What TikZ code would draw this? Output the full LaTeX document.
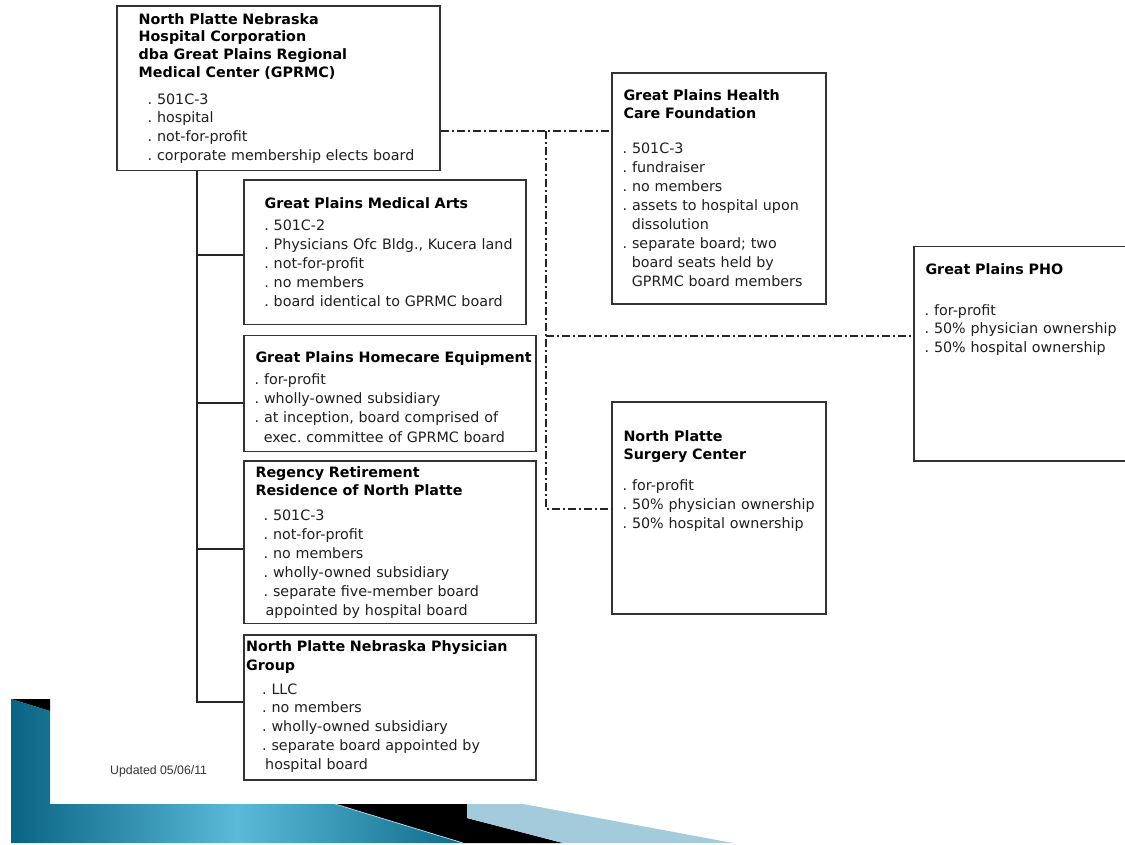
\documentclass[tikz,border=0pt]{standalone}
\usepackage{fontspec}
\setmainfont{DejaVu Sans}
\newfontfamily\updfont{Liberation Sans}
\definecolor{tealA}{RGB}{8,100,130}
\definecolor{tealB}{RGB}{90,186,216}
\definecolor{tealC}{RGB}{14,108,138}
\definecolor{paleblue}{RGB}{163,203,220}
\definecolor{edgeline}{RGB}{175,215,230}
\begin{document}
\frenchspacing
\begin{tikzpicture}[x=1pt,y=-1pt,
  box/.style={draw=black!80, line width=1.5pt, fill=white, rectangle, inner sep=0pt},
  ttl/.style={anchor=base west, inner sep=0pt, text width=330pt, align=left,
              font=\frenchspacing\fontsize{14.3}{18}\selectfont\bfseries, text=black},
  bdy/.style={anchor=base west, inner sep=0pt, text width=330pt, align=left,
              font=\frenchspacing\fontsize{14.3}{19}\selectfont, text=black!88},
  tree/.style={draw=black!85, line width=1.4pt},
  dd/.style={draw=black!85, line width=1.2pt, dash pattern=on 8pt off 3pt on 2pt off 3pt}]
\useasboundingbox (0,0) rectangle (1125,844);
\clip (0,0) rectangle (1125,844);
\fill[white] (0,0) rectangle (1125,844);

% slide decoration
\fill[black] (11,699) -- (50,699) -- (50,711) -- cycle;
\shade[left color=tealA, right color=tealC, middle color=tealB]
  (11,699) -- (50,711) -- (50,804) -- (335,804) -- (463,843) -- (11,843) -- cycle;
\fill[black] (335,804) -- (467,804) -- (467,818) -- (563,843) -- (463,843) -- cycle;
\fill[paleblue] (467,804) -- (523,804) -- (733,843) -- (563,843) -- (467,818) -- cycle;
\draw[edgeline, line width=0.8pt] (335,804) -- (463,843);

% boxes
\node[box, minimum width=323pt, minimum height=164.5pt] (gp) at (278.5,88.25) {};
\node[box, minimum width=282pt, minimum height=144.5pt] (ma) at (385,252.25) {};
\node[box, minimum width=292pt, minimum height=116pt] (hc) at (390,393.5) {};
\node[box, minimum width=292pt, minimum height=162.5pt] (rg) at (390,542.25) {};
\node[box, minimum width=292pt, minimum height=145pt] (pg) at (390,707.5) {};
\node[box, minimum width=214pt, minimum height=231pt] (fd) at (719,188.5) {};
\node[box, minimum width=226pt, minimum height=214.5pt] (pho) at (1027,353.75) {};
\node[box, minimum width=214pt, minimum height=212pt] (sc) at (719,508) {};

% solid tree
\coordinate (tx) at (197,0);
\coordinate (b1) at (197,255);
\coordinate (b2) at (197,403);
\coordinate (b3) at (197,549);
\coordinate (b4) at (197,702);
\draw[tree] (gp.south -| tx) -- (b4) -- (pg.west |- b4);
\draw[tree] (b1) -- (ma.west |- b1);
\draw[tree] (b2) -- (hc.west |- b2);
\draw[tree] (b3) -- (rg.west |- b3);

% dash-dot links
\coordinate (j1) at (546,131);
\coordinate (j2) at (546,336);
\coordinate (j3) at (546,509);
\draw[dd] (gp.east |- j1) -- (fd.west |- j1);
\draw[dd] (j1) -- (j3) -- (sc.west |- j3);
\draw[dd] (j2) -- (pho.west |- j2);

% texts
\node[ttl, font=\fontsize{14.3}{17.9}\selectfont\bfseries] (gpt) at (138.5,24)
  {North Platte Nebraska\\Hospital Corporation\\dba Great Plains Regional\\Medical Center (GPRMC)};
\node[bdy, font=\frenchspacing\fontsize{14.3}{18.8}\selectfont] (gpb) at (147.5,104)
  {. 501C-3\\. hospital\\. not-for-profit\\. corporate membership elects board};

\node[ttl] (mat) at (264.5,208.3) {Great Plains Medical Arts};
\node[bdy] (mab) at (264.2,230)
  {. 501C-2\\. Physicians Ofc Bldg., Kucera land\\. not-for-profit\\. no members\\. board identical to GPRMC board};

\node[ttl] (hct) at (255.3,362.3) {Great Plains Homecare Equipment};
\node[bdy, font=\frenchspacing\fontsize{14.3}{19.4}\selectfont] (hcb) at (254.5,384)
  {. for-profit\\. wholly-owned subsidiary\\. at inception, board comprised of\\\hspace*{9.1pt}exec. committee of GPRMC board};

\node[ttl] (rgt) at (255.3,477.7) {Regency Retirement\\Residence of North Platte};
\node[bdy, font=\frenchspacing\fontsize{14.3}{19.1}\selectfont] (rgb) at (263.5,520)
  {. 501C-3\\. not-for-profit\\. no members\\. wholly-owned subsidiary\\. separate five-member board\\\hspace*{2pt}appointed by hospital board};

\node[ttl, font=\fontsize{14.3}{18.3}\selectfont\bfseries] (pgt) at (246,651.7) {North Platte Nebraska Physician\\Group};
\node[bdy, font=\frenchspacing\fontsize{14.3}{18.8}\selectfont] (pgb) at (262,694)
  {. LLC\\. no members\\. wholly-owned subsidiary\\. separate board appointed by\\\hspace*{3pt}hospital board};

\node[ttl] (fdt) at (623.3,100) {Great Plains Health\\Care Foundation};
\node[bdy, font=\frenchspacing\fontsize{14.3}{19.1}\selectfont] (fdb) at (622.5,153)
  {. 501C-3\\. fundraiser\\. no members\\. assets to hospital upon\\\hspace*{9.1pt}dissolution\\. separate board; two\\\hspace*{9.1pt}board seats held by\\\hspace*{9.1pt}GPRMC board members};

\node[ttl] (phot) at (925.3,274.3) {Great Plains PHO};
\node[bdy, font=\frenchspacing\fontsize{14.3}{18.9}\selectfont] (phob) at (924.5,315)
  {. for-profit\\. 50\% physician ownership\\. 50\% hospital ownership};

\node[ttl] (sct) at (623.3,441) {North Platte\\Surgery Center};
\node[bdy] (scb) at (622.5,490)
  {. for-profit\\. 50\% physician ownership\\. 50\% hospital ownership};

\node[anchor=base west, inner sep=0pt, font=\updfont\fontsize{12.3}{14}\selectfont, text=black!80] (upd) at (110,774) {Updated 05/06/11};
\end{tikzpicture}
\end{document}
